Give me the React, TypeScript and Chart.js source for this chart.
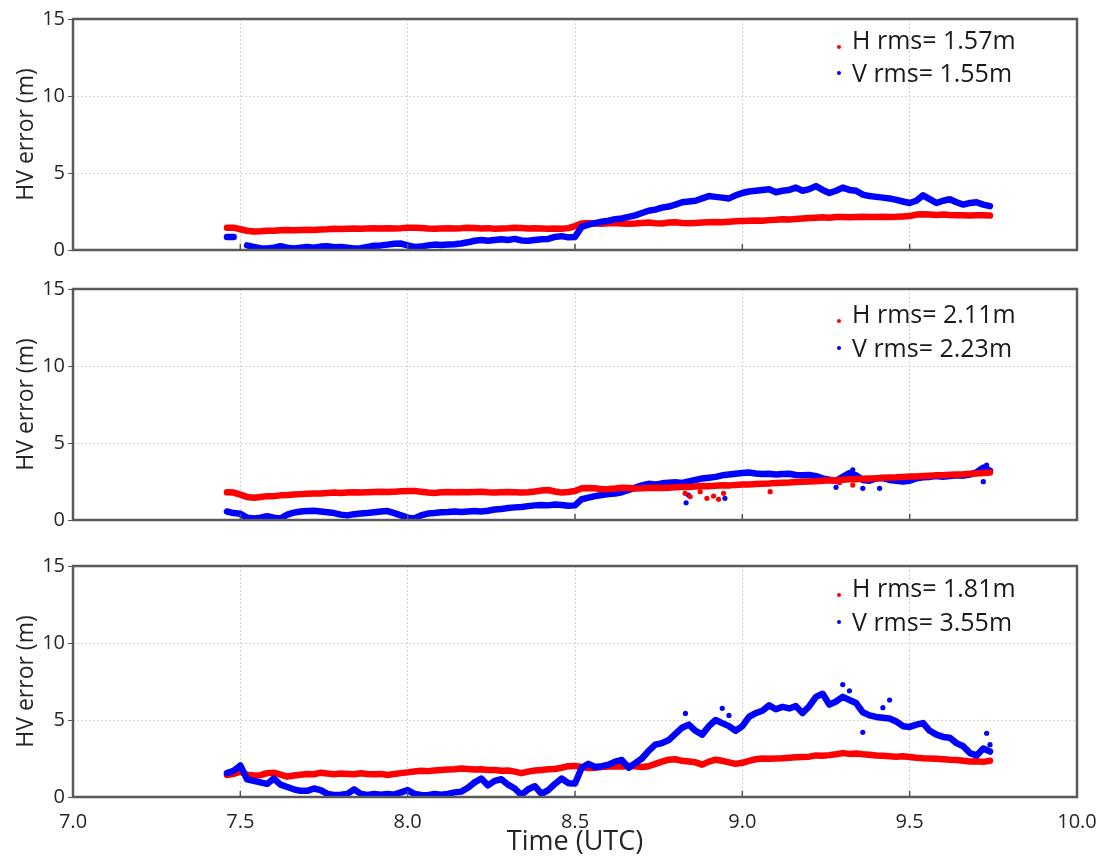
import React, { useEffect, useRef } from "react";
import { Chart, registerables } from "chart.js";
Chart.register(...registerables);

// ---------- data ----------
const TIME = [
  7.46, 7.48, 7.50, 7.52, 7.54, 7.56, 7.58, 7.60, 7.62, 7.64, 7.66, 7.68, 7.70, 7.72, 7.74, 7.76, 7.78, 7.80, 7.82, 7.84,
  7.86, 7.88, 7.90, 7.92, 7.94, 7.96, 7.98, 8.00, 8.02, 8.04, 8.06, 8.08, 8.10, 8.12, 8.14, 8.16, 8.18, 8.20, 8.22, 8.24,
  8.26, 8.28, 8.30, 8.32, 8.34, 8.36, 8.38, 8.40, 8.42, 8.44, 8.46, 8.48, 8.50, 8.52, 8.54, 8.56, 8.58, 8.60, 8.62, 8.64,
  8.66, 8.68, 8.70, 8.72, 8.74, 8.76, 8.78, 8.80, 8.82, 8.84, 8.86, 8.88, 8.90, 8.92, 8.94, 8.96, 8.98, 9.00, 9.02, 9.04,
  9.06, 9.08, 9.10, 9.12, 9.14, 9.16, 9.18, 9.20, 9.22, 9.24, 9.26, 9.28, 9.30, 9.32, 9.34, 9.36, 9.38, 9.40, 9.42, 9.44,
  9.46, 9.48, 9.50, 9.52, 9.54, 9.56, 9.58, 9.60, 9.62, 9.64, 9.66, 9.68, 9.70, 9.72, 9.74,
];

// Panel 1
const H1 = [
  1.45, 1.45, 1.35, 1.25, 1.2, 1.22, 1.25, 1.25, 1.28, 1.3, 1.28, 1.3, 1.32, 1.3, 1.33, 1.35, 1.38, 1.36, 1.38, 1.4,
  1.38, 1.4, 1.42, 1.4, 1.42, 1.4, 1.42, 1.45, 1.45, 1.43, 1.4, 1.38, 1.4, 1.42, 1.4, 1.42, 1.45, 1.43, 1.4, 1.42,
  1.38, 1.4, 1.42, 1.45, 1.43, 1.4, 1.42, 1.4, 1.38, 1.4, 1.38, 1.42, 1.55, 1.72, 1.75, 1.72, 1.7, 1.73, 1.75, 1.72,
  1.7, 1.72, 1.75, 1.78, 1.74, 1.72, 1.78, 1.8, 1.76, 1.74, 1.76, 1.78, 1.8, 1.82, 1.8, 1.84, 1.86, 1.88, 1.9, 1.92,
  1.9, 1.94, 1.96, 2.0, 1.98, 2.02, 2.05, 2.08, 2.1, 2.12, 2.1, 2.14, 2.15, 2.12, 2.14, 2.16, 2.14, 2.15, 2.16, 2.15,
  2.16, 2.18, 2.2, 2.3, 2.32, 2.3, 2.28, 2.3, 2.27, 2.25, 2.26, 2.24, 2.25, 2.26, 2.24,
];
const V1 = [
  0.85, 0.85, null, 0.3, 0.2, 0.12, 0.1, 0.15, 0.25, 0.15, 0.1, 0.15, 0.2, 0.15, 0.22, 0.25, 0.18, 0.2, 0.15, 0.1,
  0.12, 0.2, 0.28, 0.3, 0.35, 0.4, 0.42, 0.3, 0.2, 0.22, 0.3, 0.35, 0.32, 0.35, 0.38, 0.42, 0.5, 0.6, 0.65, 0.6,
  0.65, 0.7, 0.65, 0.72, 0.62, 0.6, 0.65, 0.7, 0.72, 0.85, 0.9, 0.82, 0.85, 1.5, 1.65, 1.75, 1.84, 1.9, 2.0, 2.05,
  2.15, 2.25, 2.4, 2.55, 2.62, 2.75, 2.82, 2.95, 3.1, 3.15, 3.2, 3.35, 3.5, 3.45, 3.4, 3.35, 3.55, 3.7, 3.8, 3.85,
  3.9, 3.95, 3.75, 3.85, 3.9, 4.05, 3.85, 3.95, 4.15, 3.9, 3.7, 3.85, 4.05, 3.9, 3.85, 3.6, 3.5, 3.45, 3.4, 3.35,
  3.25, 3.15, 3.05, 3.2, 3.55, 3.3, 3.05, 3.2, 3.3, 3.1, 2.95, 3.05, 3.1, 2.95, 2.85,
];

// Panel 2
const H2 = [
  1.8, 1.78, 1.65, 1.5, 1.45, 1.5, 1.55, 1.55, 1.6, 1.62, 1.65, 1.68, 1.7, 1.72, 1.72, 1.75, 1.78, 1.76, 1.78, 1.8,
  1.78, 1.8, 1.82, 1.84, 1.82, 1.84, 1.86, 1.88, 1.88, 1.84, 1.78, 1.76, 1.8, 1.82, 1.8, 1.82, 1.8, 1.82, 1.84, 1.8,
  1.78, 1.8, 1.82, 1.8, 1.78, 1.8, 1.85, 1.92, 1.95, 1.85, 1.78, 1.82, 1.88, 2.06, 2.08, 2.06, 2.0, 2.02, 2.05, 2.1,
  2.08, 2.05, 2.06, 2.08, 2.1, 2.08, 2.1, 2.12, 2.15, 2.14, 2.18, 2.2, 2.19, 2.22, 2.25, 2.24, 2.28, 2.3, 2.31, 2.34,
  2.36, 2.37, 2.4, 2.42, 2.43, 2.46, 2.48, 2.5, 2.51, 2.55, 2.58, 2.57, 2.62, 2.64, 2.65, 2.68, 2.7, 2.71, 2.74, 2.76,
  2.77, 2.8, 2.82, 2.83, 2.86, 2.88, 2.9, 2.91, 2.94, 2.96, 2.97, 3.0, 3.02, 3.05, 3.08,
];
const V2 = [
  0.55, 0.45, 0.4, 0.15, 0.1, 0.15, 0.25, 0.15, 0.1, 0.35, 0.48, 0.55, 0.58, 0.6, 0.55, 0.5, 0.45, 0.35, 0.3, 0.38,
  0.42, 0.45, 0.5, 0.55, 0.58, 0.45, 0.3, 0.15, 0.1, 0.3, 0.42, 0.45, 0.5, 0.52, 0.55, 0.52, 0.55, 0.58, 0.55, 0.6,
  0.68, 0.72, 0.78, 0.82, 0.85, 0.9, 0.95, 0.98, 0.95, 1.0, 0.98, 0.92, 0.95, 1.35, 1.45, 1.55, 1.62, 1.68, 1.72, 1.8,
  1.95, 2.1, 2.25, 2.35, 2.3, 2.38, 2.42, 2.45, 2.4, 2.5, 2.6, 2.7, 2.75, 2.8, 2.9, 2.95, 3.0, 3.05, 3.08, 3.02,
  2.98, 3.0, 2.95, 2.98, 3.0, 2.92, 2.9, 2.92, 2.85, 2.7, 2.62, 2.55, 2.8, 3.05, 2.9, 2.6, 2.55, 2.7, 2.72, 2.6,
  2.55, 2.5, 2.55, 2.7, 2.78, 2.8, 2.85, 2.8, 2.85, 2.9, 2.88, 2.95, 3.1, 3.4, 3.2,
];
const H2_OUT_T = [8.829, 8.844, 8.874, 8.894, 8.914, 8.929, 8.944, 9.083, 9.29, 9.33, 9.37];
const H2_OUT_V = [1.73, 1.52, 1.84, 1.41, 1.56, 1.34, 1.73, 1.84, 2.42, 2.27, 2.6];
const V2_OUT_T = [8.832, 8.839, 8.948, 9.28, 9.33, 9.36, 9.41, 9.72, 9.73];
const V2_OUT_V = [1.12, 1.62, 1.41, 2.12, 3.25, 2.06, 2.06, 2.49, 3.57];

// Panel 3
const H3 = [
  1.43, 1.5, 1.65, 1.45, 1.4, 1.42, 1.55, 1.58, 1.45, 1.32, 1.4, 1.45, 1.5, 1.48, 1.58, 1.52, 1.48, 1.52, 1.5, 1.48,
  1.54, 1.5, 1.48, 1.5, 1.43, 1.5, 1.55, 1.6, 1.65, 1.7, 1.68, 1.72, 1.75, 1.78, 1.8, 1.85, 1.82, 1.78, 1.8, 1.76,
  1.75, 1.7, 1.72, 1.65, 1.55, 1.65, 1.72, 1.75, 1.8, 1.82, 1.9, 2.0, 2.02, 1.95, 1.88, 1.9, 1.95, 1.98, 2.0, 1.98,
  2.02, 2.0, 1.95, 2.0, 2.15, 2.3, 2.42, 2.45, 2.35, 2.3, 2.25, 2.1, 2.3, 2.42, 2.35, 2.25, 2.15, 2.22, 2.35, 2.45,
  2.5, 2.48, 2.5, 2.52, 2.55, 2.58, 2.6, 2.62, 2.7, 2.68, 2.72, 2.78, 2.85, 2.8, 2.82, 2.78, 2.75, 2.7, 2.68, 2.65,
  2.62, 2.65, 2.6, 2.55, 2.52, 2.5, 2.48, 2.45, 2.42, 2.4, 2.35, 2.3, 2.32, 2.28, 2.35,
];
const V3 = [
  1.55, 1.7, 2.05, 1.15, 1.05, 0.95, 0.85, 1.2, 0.8, 0.65, 0.5, 0.4, 0.4, 0.55, 0.45, 0.2, 0.13, 0.15, 0.2, 0.5,
  0.2, 0.13, 0.2, 0.15, 0.2, 0.15, 0.3, 0.45, 0.2, 0.13, 0.12, 0.2, 0.15, 0.2, 0.3, 0.35, 0.6, 0.95, 1.2, 0.75,
  1.05, 1.15, 0.8, 0.55, 0.13, 0.5, 0.7, 0.2, 0.45, 0.85, 1.2, 0.9, 0.88, 1.9, 2.15, 1.95, 2.0, 2.1, 2.3, 2.4,
  1.9, 2.2, 2.5, 3.0, 3.4, 3.5, 3.7, 4.1, 4.5, 4.7, 4.3, 4.05, 4.6, 5.0, 4.8, 4.6, 4.3, 4.6, 5.2, 5.45,
  5.6, 5.95, 5.7, 5.85, 5.75, 5.9, 5.45, 5.9, 6.5, 6.7, 6.0, 6.2, 6.5, 6.3, 6.1, 5.5, 5.3, 5.2, 5.15, 5.1,
  4.9, 4.6, 4.55, 4.7, 4.8, 4.3, 4.05, 3.9, 3.85, 3.5, 3.3, 2.85, 2.7, 3.15, 2.95,
];
const V3_OUT_T = [8.83, 8.94, 8.96, 9.3, 9.32, 9.36, 9.42, 9.44, 9.73, 9.74];
const V3_OUT_V = [5.43, 5.76, 5.3, 7.3, 6.9, 4.2, 5.8, 6.3, 4.14, 3.4];

const LEGEND_1 = ["H rms= 1.57m", "V rms= 1.55m"];
const LEGEND_2 = ["H rms= 2.11m", "V rms= 2.23m"];
const LEGEND_3 = ["H rms= 1.81m", "V rms= 3.55m"];

const X_TICKS = [7.0, 7.5, 8.0, 8.5, 9.0, 9.5, 10.0];
const Y_TICKS = [0, 5, 10, 15];

const Y_TITLE = "HV error (m)";
const X_TITLE = "Time (UTC)";

// ---------- styling ----------
const RED = "#ff0000";
const BLUE = "#0000ff";
const FONT = "'Open Sans', 'Noto Sans', sans-serif";
const TEXT = "#262626";
const W = 1104;
const PLOT_LEFT = 73;
const PLOT_RIGHT = 1077;

type PanelProps = {
  top: number;
  height: number;
  padTop: number;
  xAxisH: number;
  showX: boolean;
  h: (number | null)[];
  v: (number | null)[];
  hOut?: [number[], number[]];
  vOut?: [number[], number[]];
  legend: string[];
  legendY: [number, number];
  redOnTop: boolean;
};

function pts(ts: number[], vs: (number | null)[]) {
  return ts.map((t, i) => ({ x: t, y: vs[i] }));
}

function Panel(p: PanelProps) {
  const ref = useRef<HTMLCanvasElement>(null);
  useEffect(() => {
    if (!ref.current) return;
    const lineDs = (label: string, data: any, color: string, order: number) => ({
      label,
      data,
      showLine: true,
      borderColor: color,
      backgroundColor: color,
      borderWidth: 6.5,
      borderJoinStyle: "round" as const,
      borderCapStyle: "round" as const,
      pointRadius: 0,
      spanGaps: false,
      order,
    });
    const outDs = (label: string, data: any, color: string, order: number) => ({
      label,
      data,
      showLine: false,
      borderColor: color,
      backgroundColor: color,
      pointRadius: 2.6,
      pointBorderWidth: 0,
      order,
    });
    const hOrder = p.redOnTop ? 0 : 2;
    const vOrder = p.redOnTop ? 2 : 0;
    const datasets: any[] = [
      lineDs(p.legend[0], pts(TIME, p.h), RED, hOrder),
      lineDs(p.legend[1], pts(TIME, p.v), BLUE, vOrder),
    ];
    if (p.hOut) datasets.push(outDs("h-out", pts(p.hOut[0], p.hOut[1]), RED, hOrder));
    if (p.vOut) datasets.push(outDs("v-out", pts(p.vOut[0], p.vOut[1]), BLUE, vOrder));

    const decor = {
      id: "decor",
      afterDatasetsDraw(chart: any) {
        const { ctx, chartArea: a, scales } = chart;
        ctx.save();
        // inward tick marks on bottom axis
        ctx.strokeStyle = "#555";
        ctx.lineWidth = 1.5;
        for (const t of X_TICKS) {
          const x = scales.x.getPixelForValue(t);
          ctx.beginPath();
          ctx.moveTo(x, a.bottom);
          ctx.lineTo(x, a.bottom - 6);
          ctx.stroke();
        }
        // frame
        ctx.strokeStyle = "#5a5a5a";
        ctx.lineWidth = 2.5;
        ctx.strokeRect(a.left, a.top, a.right - a.left, a.bottom - a.top);
        // legend
        ctx.font = `25px ${FONT}`;
        ctx.textBaseline = "middle";
        ctx.textAlign = "left";
        ctx.fillStyle = "#1a1a1a";
        const [yh, yv] = p.legendY;
        ctx.fillText(p.legend[0], 852, yh - p.top);
        ctx.fillText(p.legend[1], 852, yv - p.top);
        ctx.fillStyle = RED;
        ctx.beginPath();
        ctx.arc(839, yh - p.top + 5, 2, 0, Math.PI * 2);
        ctx.fill();
        ctx.fillStyle = BLUE;
        ctx.beginPath();
        ctx.arc(839, yv - p.top - 2, 2, 0, Math.PI * 2);
        ctx.fill();
        ctx.restore();
      },
    };

    const chart = new Chart(ref.current, {
      type: "scatter",
      data: { datasets },
      plugins: [decor],
      options: {
        animation: false,
        responsive: false,
        maintainAspectRatio: false,
        layout: { padding: { top: p.padTop, right: W - PLOT_RIGHT, left: 0, bottom: 0 } },
        plugins: { legend: { display: false }, tooltip: { enabled: false } },
        scales: {
          x: {
            type: "linear",
            min: 7,
            max: 10,
            afterBuildTicks: (s: any) => {
              s.ticks = X_TICKS.map((v) => ({ value: v }));
            },
            afterFit: (s: any) => {
              s.height = p.xAxisH;
              s.paddingLeft = 0;
              s.paddingRight = 0;
            },
            grid: { color: "#d4d4d4", drawTicks: false, lineWidth: 1 },
            border: { display: false, dash: [2, 2] },
            ticks: {
              display: p.showX,
              padding: 13,
              color: TEXT,
              font: { family: FONT, size: 20 },
              callback: (v: any) => Number(v).toFixed(1),
              maxRotation: 0,
              autoSkip: false,
            },
            title: {
              display: p.showX,
              text: X_TITLE,
              color: TEXT,
              font: { family: FONT, size: 27 },
              padding: { top: 0, bottom: 0 },
            },
          },
          y: {
            type: "linear",
            min: 0,
            max: 15,
            afterBuildTicks: (s: any) => {
              s.ticks = Y_TICKS.map((v) => ({ value: v }));
            },
            afterFit: (s: any) => {
              s.width = PLOT_LEFT;
              s.paddingTop = 0;
              s.paddingBottom = 0;
            },
            grid: { color: "#d4d4d4", tickColor: "#555", tickLength: 5, lineWidth: 1 },
            border: { display: false, dash: [2, 2] },
            ticks: {
              padding: 3,
              color: TEXT,
              font: { family: FONT, size: 20 },
            },
            title: {
              display: true,
              text: Y_TITLE,
              color: TEXT,
              font: { family: FONT, size: 23 },
              padding: { top: 13, bottom: 0 },
            },
          },
        },
      } as any,
    });
    return () => chart.destroy();
  }, []);
  return (
    <canvas
      ref={ref}
      width={W}
      height={p.height}
      style={{ position: "absolute", left: 0, top: p.top, width: W, height: p.height, display: "block" }}
    />
  );
}

export default function App() {
  return (
    <div style={{ position: "absolute", left: 0, top: 0, width: 1104, height: 859, background: "#fff", overflow: "hidden" }}>
      <Panel top={0} height={270} padTop={19} xAxisH={20} showX={false} h={H1} v={V1}
        legend={LEGEND_1} legendY={[42, 75]} redOnTop={false} />
      <Panel top={270} height={270} padTop={19} xAxisH={20} showX={false} h={H2} v={V2}
        hOut={[H2_OUT_T, H2_OUT_V]} vOut={[V2_OUT_T, V2_OUT_V]}
        legend={LEGEND_2} legendY={[316, 350]} redOnTop={true} />
      <Panel top={540} height={319} padTop={26} xAxisH={62} showX={true} h={H3} v={V3}
        vOut={[V3_OUT_T, V3_OUT_V]}
        legend={LEGEND_3} legendY={[590, 624]} redOnTop={false} />
    </div>
  );
}
